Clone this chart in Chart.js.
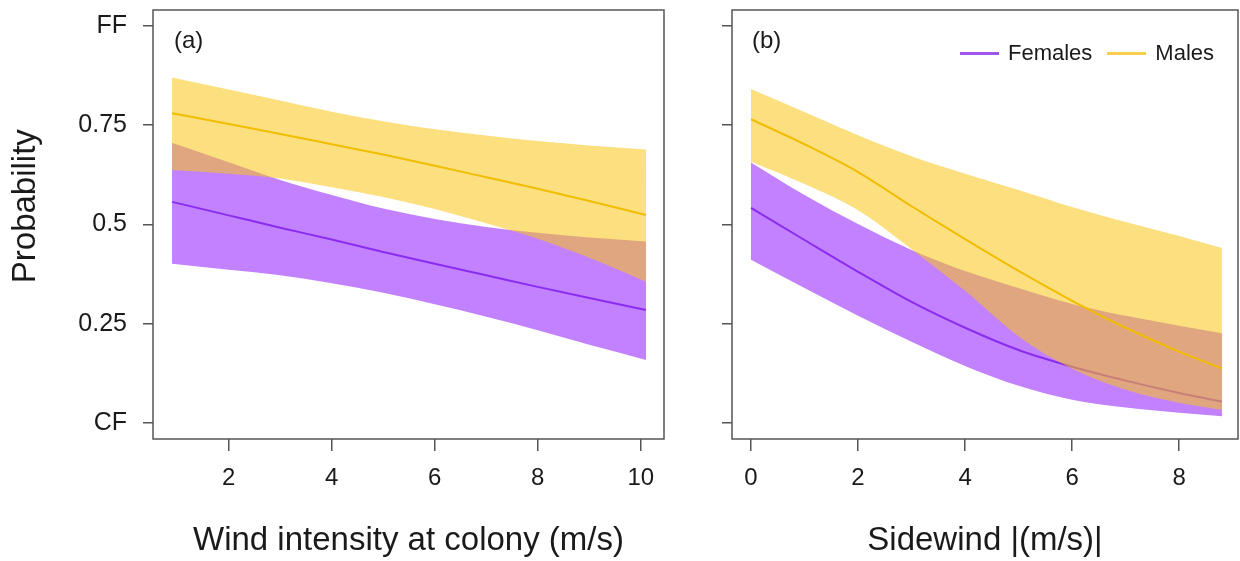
<!DOCTYPE html>
<html>
<head>
<meta charset="utf-8">
<title>Wind and sidewind probability</title>
<script src="https://cdn.jsdelivr.net/npm/chart.js@4.4.1/dist/chart.umd.min.js"></script>
<style>
  body { margin: 0; background: #fff; }
  #wrap { position: relative; width: 1240px; height: 561px; font-family: 'Liberation Sans', Arial, sans-serif; }
  canvas { position: absolute; top: 0; }
  #chart-a { left: 0; }
  #chart-b { left: 670px; }
  .panel-tag { position: absolute; top: 28px; font-size: 24px; line-height: 24px; color: #1a1a1a; }
  .legend { position: absolute; top: 40px; left: 960px; display: flex; align-items: center; font-size: 22px; line-height: 26px; color: #1a1a1a; }
  .legend .swatch { display: inline-block; width: 39px; height: 3px; margin-right: 9px; }
  .legend .gap { width: 15px; }
</style>
</head>
<body>
<div id="wrap">
  <canvas id="chart-a" width="670" height="561"></canvas>
  <canvas id="chart-b" width="570" height="561"></canvas>
  <div class="panel-tag" style="left:174px">(a)</div>
  <div class="panel-tag" style="left:752px">(b)</div>
  <div class="legend">
    <span class="swatch" style="background:#a054f2"></span><span>Females</span>
    <span class="gap"></span>
    <span class="swatch" style="background:#f8cd4c"></span><span>Males</span>
  </div>
</div>
<script>
// Panel (a): wind intensity at colony (m/s)
const windX = [0.9, 2, 3, 4, 5, 6, 7, 8, 9, 10.1];
const maleWindFit = [0.780, 0.753, 0.728, 0.702, 0.676, 0.648, 0.619, 0.590, 0.559, 0.524];
const maleWindUpper = [0.870, 0.840, 0.812, 0.784, 0.760, 0.740, 0.724, 0.710, 0.699, 0.689];
const maleWindLower = [0.637, 0.628, 0.616, 0.594, 0.569, 0.539, 0.503, 0.464, 0.416, 0.356];
const femWindFit = [0.557, 0.523, 0.492, 0.462, 0.431, 0.401, 0.372, 0.343, 0.315, 0.285];
const femWindUpper = [0.706, 0.657, 0.612, 0.574, 0.540, 0.514, 0.494, 0.479, 0.467, 0.457];
const femWindLower = [0.401, 0.386, 0.372, 0.352, 0.328, 0.299, 0.268, 0.234, 0.197, 0.159];

// Panel (b): sidewind |(m/s)|
const sideX = [0, 1, 2, 3, 4, 5, 6, 7, 8, 8.8];
const maleSideFit = [0.765, 0.702, 0.632, 0.546, 0.463, 0.383, 0.308, 0.240, 0.180, 0.138];
const maleSideUpper = [0.841, 0.783, 0.725, 0.672, 0.628, 0.587, 0.544, 0.506, 0.471, 0.441];
const maleSideLower = [0.658, 0.602, 0.536, 0.438, 0.333, 0.218, 0.137, 0.084, 0.051, 0.033];
const femSideFit = [0.542, 0.461, 0.381, 0.305, 0.240, 0.184, 0.142, 0.107, 0.076, 0.054];
const femSideUpper = [0.656, 0.574, 0.501, 0.436, 0.383, 0.340, 0.300, 0.270, 0.245, 0.226];
const femSideLower = [0.411, 0.340, 0.270, 0.205, 0.144, 0.094, 0.059, 0.039, 0.026, 0.017];

// Axis ticks
const probTicks = [0, 0.25, 0.5, 0.75, 1];
const probLabels = ['CF', '0.25', '0.5', '0.75', 'FF'];
const windTicks = [2, 4, 6, 8, 10];
const sideTicks = [0, 2, 4, 6, 8];

const FEMALE_BAND = '#c282ff';
const FEMALE_LINE = '#8a2cf0';
const MALE_BAND = 'rgba(250, 196, 22, 0.55)';
const MALE_LINE = '#f2bd00';
const AXIS = '#555';
const TEXT = '#1a1a1a';
const FONT = "'Liberation Sans', Arial, sans-serif";
const NONE = 'rgba(0,0,0,0)';

function toPoints(xs, ys) {
    return xs.map((x, i) => ({ x: x, y: ys[i] }));
}

// first dataset is drawn last (on top): male line, male band, female line, female band
function buildDatasets(xs, s) {
    const base = { pointRadius: 0, cubicInterpolationMode: 'monotone', fill: false };
    return [
        { ...base, label: 'Males', data: toPoints(xs, s.maleFit), borderColor: MALE_LINE, borderWidth: 2 },
        { ...base, label: 'Males upper', data: toPoints(xs, s.maleUpper), borderColor: NONE, borderWidth: 0, backgroundColor: MALE_BAND, fill: '+1' },
        { ...base, label: 'Males lower', data: toPoints(xs, s.maleLower), borderColor: NONE, borderWidth: 0 },
        { ...base, label: 'Females', data: toPoints(xs, s.femFit), borderColor: FEMALE_LINE, borderWidth: 2 },
        { ...base, label: 'Females upper', data: toPoints(xs, s.femUpper), borderColor: NONE, borderWidth: 0, backgroundColor: FEMALE_BAND, fill: '+1' },
        { ...base, label: 'Females lower', data: toPoints(xs, s.femLower), borderColor: NONE, borderWidth: 0 }
    ];
}

// R style box() round the plot region
const boxFrame = {
    id: 'boxFrame',
    afterDatasetsDraw(chart) {
        const { ctx, chartArea: a } = chart;
        ctx.save();
        ctx.strokeStyle = AXIS;
        ctx.lineWidth = 1.5;
        ctx.strokeRect(a.left, a.top, a.right - a.left, a.bottom - a.top);
        ctx.restore();
    }
};

// keep the plot region fixed, labels may stick out of it
function noLabelPadding(scale) {
    scale.paddingTop = 0;
    scale.paddingBottom = 0;
    scale.paddingLeft = 0;
    scale.paddingRight = 0;
}

function makePanel(canvasId, p) {
    const tickGrid = { drawOnChartArea: false, drawTicks: true, color: AXIS, lineWidth: 1.5 };
    return new Chart(document.getElementById(canvasId), {
        type: 'line',
        data: { datasets: buildDatasets(p.xs, p.series) },
        options: {
            responsive: false,
            animation: false,
            devicePixelRatio: 1,
            layout: { padding: { top: 10, right: p.padRight, left: 0, bottom: 0 } },
            plugins: { legend: { display: false }, tooltip: { enabled: false } },
            scales: {
                x: {
                    type: 'linear',
                    min: p.xMin,
                    max: p.xMax,
                    afterBuildTicks: scale => { scale.ticks = p.xTicks.map(v => ({ value: v })); },
                    afterFit: scale => { scale.height = 122; noLabelPadding(scale); },
                    grid: { ...tickGrid, tickLength: 12 },
                    border: { display: false },
                    ticks: { padding: 13, color: TEXT, maxRotation: 0, autoSkip: false, font: { family: FONT, size: 24 } },
                    title: { display: true, text: p.xTitle, color: TEXT, padding: { top: 0, bottom: 0 }, font: { family: FONT, size: 33 } }
                },
                y: {
                    type: 'linear',
                    min: -0.04,
                    max: 1.04,
                    afterBuildTicks: scale => { scale.ticks = probTicks.map(v => ({ value: v })); },
                    afterFit: scale => { scale.width = p.yWidth; noLabelPadding(scale); },
                    grid: { ...tickGrid, tickLength: 10 },
                    border: { display: false },
                    ticks: {
                        display: p.yLabels,
                        padding: 16,
                        color: TEXT,
                        font: { family: FONT, size: 25 },
                        callback: (value, i) => probLabels[i]
                    },
                    title: {
                        display: p.yLabels,
                        text: '    Probability',
                        color: TEXT,
                        padding: { top: 6, bottom: 0 },
                        font: { family: FONT, size: 33 }
                    }
                }
            }
        },
        plugins: [boxFrame]
    });
}

makePanel('chart-a', {
    xs: windX,
    series: { maleFit: maleWindFit, maleUpper: maleWindUpper, maleLower: maleWindLower,
              femFit: femWindFit, femUpper: femWindUpper, femLower: femWindLower },
    xMin: 0.53, xMax: 10.45, xTicks: windTicks,
    xTitle: 'Wind intensity at colony (m/s)',
    yWidth: 153, padRight: 6, yLabels: true
});

makePanel('chart-b', {
    xs: sideX,
    series: { maleFit: maleSideFit, maleUpper: maleSideUpper, maleLower: maleSideLower,
              femFit: femSideFit, femUpper: femSideUpper, femLower: femSideLower },
    xMin: -0.355, xMax: 9.1, xTicks: sideTicks,
    xTitle: 'Sidewind |(m/s)|',
    yWidth: 62, padRight: 2, yLabels: false
});
</script>
</body>
</html>
